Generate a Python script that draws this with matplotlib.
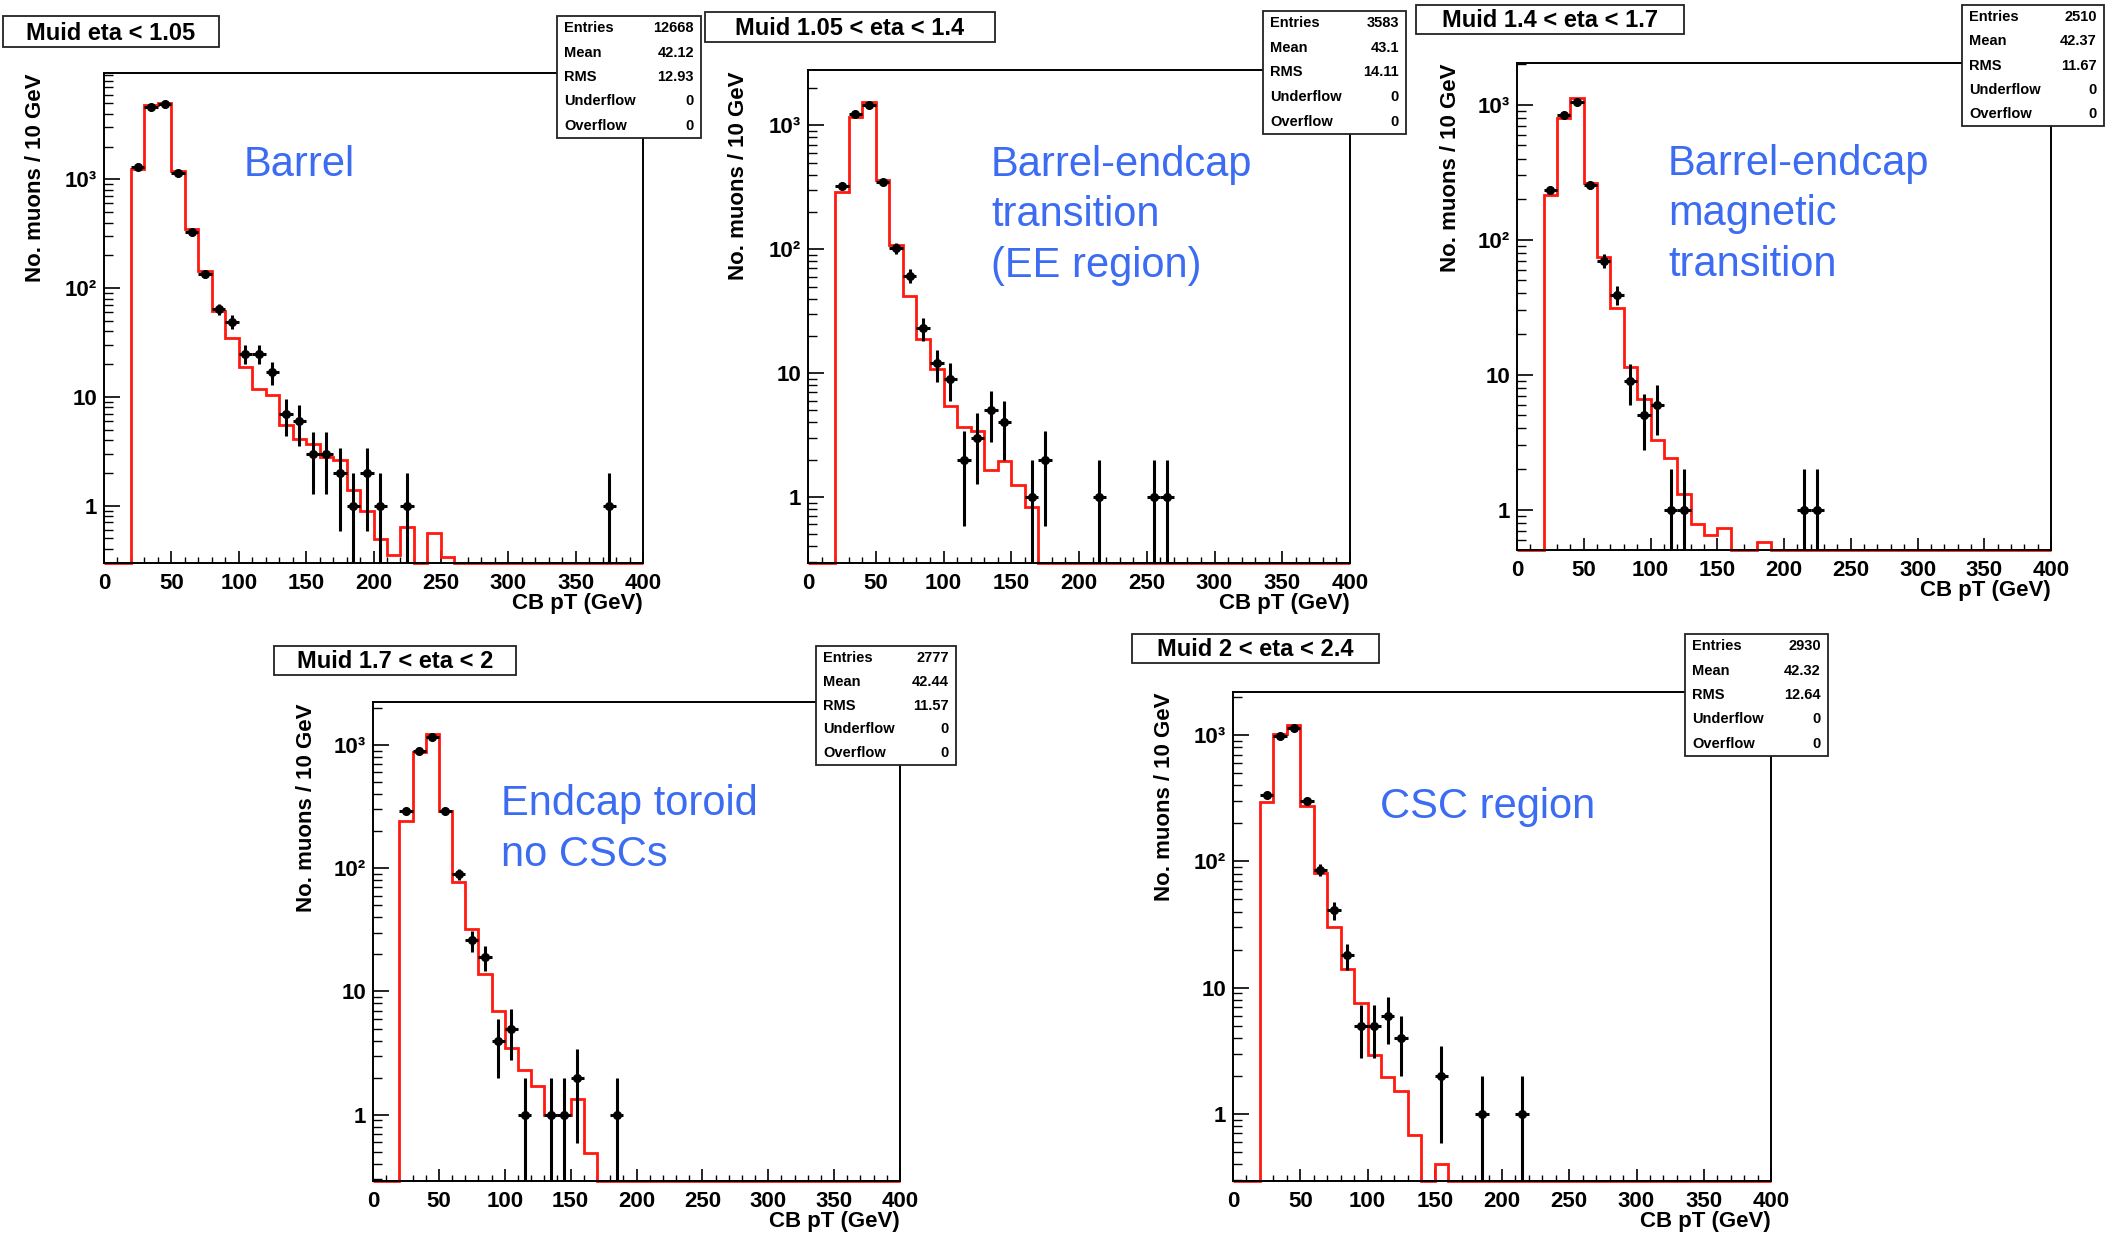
import numpy as np
import matplotlib
matplotlib.use("Agg")
import matplotlib.pyplot as plt
from matplotlib.patches import Rectangle
from matplotlib.ticker import FixedLocator, FuncFormatter, LogLocator, MultipleLocator, NullFormatter

plt.rcParams['font.family'] = ['Liberation Sans', 'DejaVu Sans']

#--① data : 10 GeV bins from 0 to 400 GeV
edges = np.arange(0, 410, 10)
mc_start = 20   # red histogram values start at this bin edge

# Muid eta < 1.05 (Barrel)
barrel_x = [25, 35, 45, 55, 65, 75, 85, 95, 105, 115, 125, 135, 145, 155, 165, 175, 185, 195, 205, 225, 375]
barrel_n = [1300, 4590, 4950, 1150, 330, 134, 64, 49, 25, 25, 17, 7, 6, 3, 3, 2, 1, 2, 1, 1, 1]
barrel_mc = [1254, 4790, 5070, 1183, 351, 142, 61.5, 34.8, 18.7, 11.8, 10.3, 5.5, 4.1, 3.7,
             2.8, 2.6, 1.39, 0.9, 0.49, 0.35, 0.63, 0, 0.56, 0.34]

# Muid 1.05 < eta < 1.4
ee_x = [25, 35, 45, 55, 65, 75, 85, 95, 105, 115, 125, 135, 145, 165, 175, 215, 255, 265]
ee_n = [325, 1231, 1450, 350, 102, 61, 23, 12, 9, 2, 3, 5, 4, 1, 2, 1, 1, 1]
ee_mc = [289, 1176, 1550, 363, 109, 41.8, 19, 10.7, 5.4, 3.7, 3.4, 1.65, 1.94, 1.25, 0.83]

# Muid 1.4 < eta < 1.7
mag_x = [25, 35, 45, 55, 65, 75, 85, 95, 105, 115, 125, 215, 225]
mag_n = [233, 846, 1045, 253, 70, 39, 9, 5, 6, 1, 1, 1, 1]
mag_mc = [216, 800, 1120, 263, 74.6, 31, 11.5, 6.6, 3.3, 2.4, 1.31, 0.79, 0.65, 0.73, 0, 0, 0.58]

# Muid 1.7 < eta < 2
tor_x = [25, 35, 45, 55, 65, 75, 85, 95, 105, 115, 135, 145, 155, 185]
tor_n = [290, 896, 1150, 292, 89, 26, 19, 4, 5, 1, 1, 1, 2, 1]
tor_mc = [242, 877, 1225, 290, 76.7, 32.3, 13.9, 7.0, 3.5, 2.3, 1.7, 0.99, 0.99, 1.34, 0.49]

# Muid 2 < eta < 2.4
csc_x = [25, 35, 45, 55, 65, 75, 85, 95, 105, 115, 125, 155, 185, 215]
csc_n = [338, 980, 1140, 303, 86, 41, 18, 5, 5, 6, 4, 2, 1, 1]
csc_mc = [297, 1014, 1195, 275, 80.5, 30, 14, 7.6, 2.94, 1.97, 1.51, 0.68, 0, 0.40]

titles = ['Muid eta < 1.05', 'Muid 1.05 < eta < 1.4', 'Muid 1.4 < eta < 1.7',
          'Muid 1.7 < eta < 2', 'Muid 2 < eta < 2.4']
notes = [['Barrel'], ['Barrel-endcap', 'transition', '(EE region)'],
         ['Barrel-endcap', 'magnetic', 'transition'], ['Endcap toroid', 'no CSCs'], ['CSC region']]
stat_names = ['Entries', 'Mean', 'RMS', 'Underflow', 'Overflow']
stat_vals = [['12668', '42.12', '12.93', '0', '0'],
             ['3583', '43.1', '14.11', '0', '0'],
             ['2510', '42.37', '11.67', '0', '0'],
             ['2777', '42.44', '11.57', '0', '0'],
             ['2930', '42.32', '12.64', '0', '0']]
ylims = [(0.297, 9480), (0.293, 2800), (0.503, 2040), (0.29, 2230), (0.293, 2200)]

#--② layout in pixels of the 2105x1233 picture
W, H = 2105, 1233
DPI = 100
axes_px = [(104, 73, 643, 563), (808, 70, 1350, 563), (1517, 63, 2051, 550),
           (373, 702, 900, 1181), (1233, 692, 1771, 1181)]
title_px = [(3, 16, 219, 47), (705, 12, 995, 42), (1416, 5, 1684, 34),
            (274, 646, 516, 675), (1132, 634, 1379, 663)]
stat_px = [(557, 16, 701, 138), (1263, 11, 1406, 134), (1962, 5, 2104, 126),
           (816, 646, 956, 765), (1685, 634, 1828, 756)]
ylab_px = [(36, 74), (739, 71), (1450, 64), (307, 704), (1165, 692)]
note_px = [(244, 176), (991, 176), (1668, 175), (501, 815), (1380, 818)]

RED = '#ff1a10'
BLUE = '#3b6cf2'


def fx(x):
    return x / W


def fy(y):
    return 1 - y / H


def box(fig, b, lw=1.3):
    x0, y0, x1, y1 = b
    fig.add_artist(Rectangle((fx(x0), fy(y1)), fx(x1) - fx(x0), fy(y0) - fy(y1),
                             transform=fig.transFigure, facecolor='white',
                             edgecolor='#222222', linewidth=lw, zorder=5))


def ylabel_fmt(v, pos):
    return {1: '1', 10: '10', 100: '10²', 1000: '10³'}.get(int(round(v)), '')


fig = plt.figure(figsize=(W / DPI, H / DPI), dpi=DPI)

panels = [(barrel_x, barrel_n, barrel_mc), (ee_x, ee_n, ee_mc), (mag_x, mag_n, mag_mc),
          (tor_x, tor_n, tor_mc), (csc_x, csc_n, csc_mc)]

for i, (xs, ns, mc) in enumerate(panels):
    x0, y0, x1, y1 = axes_px[i]
    ax = fig.add_axes([fx(x0), fy(y1), fx(x1) - fx(x0), fy(y0) - fy(y1)])
    ylo, yhi = ylims[i]

    # red histogram, empty bins sit on the axis
    vals = np.zeros(len(edges) - 1)
    k = mc_start // 10
    vals[k:k + len(mc)] = mc
    vals = np.where(vals > ylo, vals, ylo)
    ax.stairs(vals, edges, baseline=None, color=RED, linewidth=2.0, clip_on=False, zorder=2)

    # data points with sqrt(N) errors
    xs = np.array(xs, dtype=float)
    ns = np.array(ns, dtype=float)
    err = np.sqrt(ns)
    lo = ns - np.maximum(ns - err, 1e-3)
    ax.errorbar(xs, ns, yerr=[lo, err], xerr=5, fmt='o', color='black', markersize=5.5,
                elinewidth=2.2, capsize=0, zorder=3)

    ax.set_yscale('log')
    ax.set_xlim(0, 400)
    ax.set_ylim(ylo, yhi)
    ax.xaxis.set_major_locator(MultipleLocator(50))
    ax.xaxis.set_minor_locator(MultipleLocator(10))
    ax.yaxis.set_major_locator(FixedLocator([1, 10, 100, 1000]))
    ax.yaxis.set_major_formatter(FuncFormatter(ylabel_fmt))
    ax.yaxis.set_minor_locator(LogLocator(base=10, subs=np.arange(2, 10)))
    ax.yaxis.set_minor_formatter(NullFormatter())
    ax.tick_params(axis='x', which='major', direction='in', length=9, width=1.2, pad=7)
    ax.tick_params(axis='x', which='minor', direction='in', length=4.5, width=1.0)
    ax.tick_params(axis='y', which='major', direction='in', length=11.5, width=1.2, pad=5)
    ax.tick_params(axis='y', which='minor', direction='in', length=6.5, width=1.0)
    for lab in ax.get_xticklabels() + ax.get_yticklabels():
        lab.set_fontsize(16)
        lab.set_fontweight('bold')
    for sp in ax.spines.values():
        sp.set_linewidth(1.4)

    # axis titles (ROOT style: at the ends of the axes)
    fig.text(fx(x1), fy(y1 + 46), 'CB pT (GeV)', ha='right', va='baseline',
             fontsize=16, fontweight='bold')
    lx, ly = ylab_px[i]
    fig.text(fx(lx), fy(ly), 'No. muons / 10 GeV', rotation=90, ha='center', va='top',
             fontsize=16, fontweight='bold')

    # blue region note
    nx, ny = note_px[i]
    for j, line in enumerate(notes[i]):
        fig.text(fx(nx), fy(ny + 50.5 * j), line, ha='left', va='baseline',
                 fontsize=30, color=BLUE)

    # title box
    box(fig, title_px[i])
    tx0, ty0, tx1, ty1 = title_px[i]
    fig.text(fx((tx0 + tx1) / 2), fy(ty1 - 7), titles[i], ha='center', va='baseline',
             fontsize=17, fontweight='bold', zorder=6)

    # stats box
    box(fig, stat_px[i])
    sx0, sy0, sx1, sy1 = stat_px[i]
    row = (sy1 - sy0) / 5
    for j in range(5):
        yc = sy0 + (j + 0.5) * row
        fig.text(fx(sx0 + 7), fy(yc), stat_names[j], ha='left', va='center',
                 fontsize=10.5, fontweight='bold', zorder=6)
        fig.text(fx(sx1 - 7), fy(yc), stat_vals[i][j], ha='right', va='center',
                 fontsize=10.5, fontweight='bold', zorder=6)

fig.savefig('out.png', dpi=DPI)
